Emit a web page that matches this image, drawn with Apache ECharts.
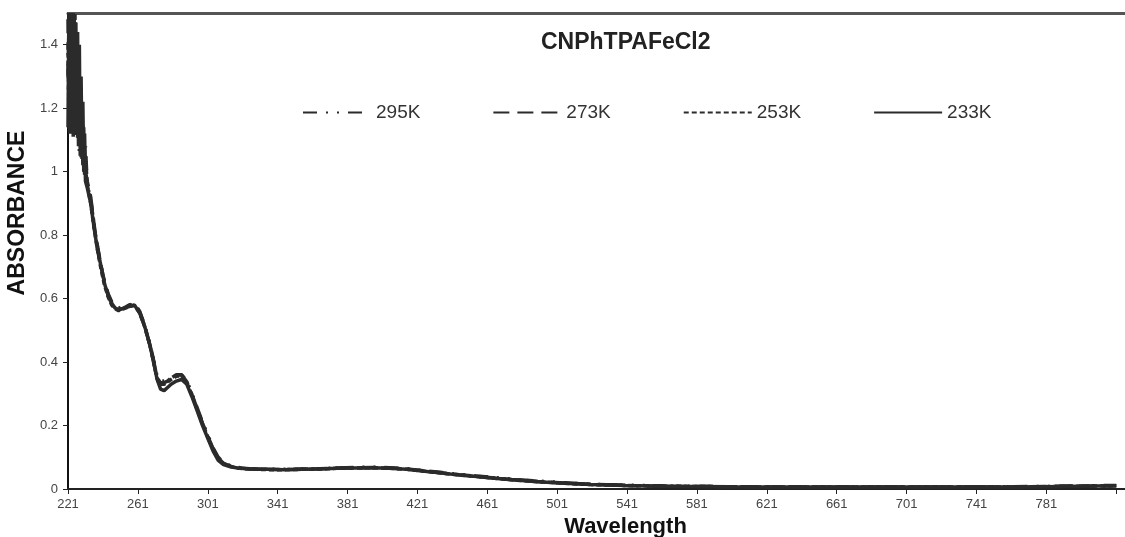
<!DOCTYPE html>
<html>
<head>
<meta charset="utf-8">
<script src="https://cdn.jsdelivr.net/npm/echarts@6/dist/echarts.min.js"></script>
<style>
  html, body { margin: 0; padding: 0; background: #fff; }
  #chart { width: 1125px; height: 537px; }
</style>
</head>
<body>
<div id="chart"></div>
<script>
// wavelength (nm) sample points
var wavelengths = [221, 221.5, 222, 222.5, 223, 223.5, 224, 224.5, 225, 225.5,
    226, 226.5, 227, 227.5, 228, 228.5, 229, 229.5, 230, 230.5, 231,
    232, 234, 236, 238, 240, 242, 244, 246, 248, 250,
    253, 256, 259, 262, 265, 268, 270, 272, 274, 276,
    278, 280, 283, 286, 289, 292, 295, 298, 301, 304,
    307, 310, 314, 318, 325, 335, 345, 355, 365, 375,
    385, 395, 405, 415, 425, 435, 445, 455, 465, 475,
    490, 505, 520, 540, 560, 580, 600, 630, 660, 690,
    720, 750, 780, 800, 821];

var abs295 = [1.48, 1.13, 1.50, 1.12, 1.47, 1.14, 1.50, 1.11, 1.46, 1.13,
    1.45, 1.10, 1.38, 1.06, 1.28, 1.04, 1.20, 1.02, 1.14, 0.99, 1.08,
    0.96, 0.91, 0.83, 0.76, 0.70, 0.65, 0.615, 0.59, 0.575, 0.57,
    0.575, 0.58, 0.585, 0.56, 0.515, 0.455, 0.405, 0.355, 0.34, 0.34,
    0.345, 0.35, 0.36, 0.36, 0.34, 0.30, 0.255, 0.21, 0.17, 0.13,
    0.10, 0.083, 0.073, 0.068, 0.064, 0.062, 0.062, 0.063, 0.064, 0.066,
    0.068, 0.069, 0.067, 0.064, 0.058, 0.052, 0.046, 0.041, 0.036, 0.031,
    0.025, 0.02, 0.015, 0.012, 0.01, 0.008, 0.007, 0.006, 0.006, 0.006,
    0.006, 0.007, 0.008, 0.010, 0.011];

var abs273 = [1.30, 1.45, 1.15, 1.50, 1.20, 1.38, 1.14, 1.50, 1.25, 1.40,
    1.15, 1.35, 1.12, 1.25, 1.08, 1.20, 1.06, 1.15, 1.03, 1.08, 1.00,
    0.97, 0.92, 0.83, 0.76, 0.70, 0.65, 0.61, 0.585, 0.57, 0.565,
    0.57, 0.58, 0.58, 0.558, 0.512, 0.452, 0.402, 0.35, 0.335, 0.335,
    0.34, 0.35, 0.358, 0.36, 0.338, 0.297, 0.252, 0.207, 0.167, 0.127,
    0.097, 0.081, 0.072, 0.067, 0.064, 0.062, 0.061, 0.062, 0.064, 0.066,
    0.067, 0.068, 0.066, 0.063, 0.057, 0.051, 0.045, 0.040, 0.035, 0.030,
    0.024, 0.019, 0.015, 0.011, 0.009, 0.008, 0.007, 0.006, 0.006, 0.006,
    0.006, 0.006, 0.008, 0.009, 0.010];

var abs253 = [1.40, 1.20, 1.50, 1.25, 1.35, 1.12, 1.45, 1.20, 1.50, 1.15,
    1.38, 1.15, 1.30, 1.10, 1.25, 1.07, 1.16, 1.03, 1.10, 1.00, 1.05,
    0.96, 0.90, 0.82, 0.75, 0.69, 0.64, 0.605, 0.58, 0.568, 0.562,
    0.568, 0.575, 0.578, 0.555, 0.51, 0.45, 0.40, 0.348, 0.33, 0.33,
    0.337, 0.345, 0.355, 0.357, 0.335, 0.295, 0.25, 0.205, 0.165, 0.125,
    0.095, 0.08, 0.071, 0.066, 0.063, 0.061, 0.061, 0.062, 0.063, 0.065,
    0.066, 0.067, 0.065, 0.062, 0.056, 0.050, 0.044, 0.039, 0.034, 0.029,
    0.023, 0.018, 0.014, 0.011, 0.009, 0.008, 0.007, 0.006, 0.006, 0.006,
    0.006, 0.006, 0.007, 0.009, 0.010];

var abs233 = [1.14, 1.50, 1.12, 1.49, 1.13, 1.50, 1.11, 1.48, 1.12, 1.47,
    1.12, 1.44, 1.08, 1.40, 1.05, 1.30, 1.04, 1.22, 1.00, 1.12, 0.97,
    0.95, 0.90, 0.82, 0.75, 0.70, 0.645, 0.61, 0.585, 0.57, 0.565,
    0.57, 0.575, 0.58, 0.555, 0.51, 0.45, 0.40, 0.345, 0.315, 0.31,
    0.32, 0.33, 0.34, 0.345, 0.33, 0.29, 0.245, 0.20, 0.16, 0.12,
    0.09, 0.077, 0.07, 0.066, 0.063, 0.062, 0.061, 0.062, 0.063, 0.065,
    0.066, 0.067, 0.065, 0.062, 0.056, 0.050, 0.044, 0.039, 0.034, 0.029,
    0.023, 0.018, 0.014, 0.011, 0.009, 0.008, 0.007, 0.006, 0.006, 0.006,
    0.006, 0.006, 0.007, 0.009, 0.010];

var xTicks = [221, 261, 301, 341, 381, 421, 461, 501, 541, 581, 621, 661, 701, 741, 781, 821];
var xLabels = [221, 261, 301, 341, 381, 421, 461, 501, 541, 581, 621, 661, 701, 741, 781];
var yTicks = [0, 0.2, 0.4, 0.6, 0.8, 1, 1.2, 1.4];

var seriesNames = ['295K', '273K', '253K', '233K'];
var seriesValues = [abs295, abs273, abs253, abs233];
var dashTypes = [[14, 9, 2, 9, 2, 9], [16, 8], [5, 3], 'solid'];

function pairs(vals) {
    return wavelengths.map(function (w, i) { return [w, vals[i]]; });
}

var chart = echarts.init(document.getElementById('chart'));
var font = '"Liberation Sans", Arial, sans-serif';

var option = {
    animation: false,
    title: {
        text: 'CNPhTPAFeCl2',
        left: 536,
        top: 26,
        textStyle: { fontFamily: font, fontSize: 23, fontWeight: 'bold', color: '#222' }
    },
    legend: {
        left: 297,
        top: 98,
        itemWidth: 68,
        itemHeight: 14,
        itemGap: 72,
        data: seriesNames,
        itemStyle: { color: 'transparent', borderColor: 'transparent', borderWidth: 0, opacity: 0 },
        textStyle: { fontFamily: font, fontSize: 19, color: '#333' }
    },
    grid: { left: 68, right: 0, top: 13, bottom: 48, containLabel: false, outerBoundsMode: 'none' },
    xAxis: [{
        type: 'value',
        min: 221,
        max: 826,
        name: 'Wavelength',
        nameLocation: 'middle',
        nameGap: 24,
        nameTextStyle: { fontFamily: font, fontSize: 22, fontWeight: 'bold', color: '#111', padding: [0, 0, 0, 58] },
        axisLine: { lineStyle: { color: '#222', width: 2 } },
        axisTick: { customValues: xTicks, length: 5, lineStyle: { color: '#222' } },
        axisLabel: { customValues: xLabels, margin: 9, fontFamily: font, fontSize: 13, color: '#444' },
        splitLine: { show: false }
    }, {
        type: 'value',
        position: 'top',
        axisLine: { show: true, lineStyle: { color: '#555', width: 3 } },
        axisTick: { show: false },
        axisLabel: { show: false },
        splitLine: { show: false }
    }],
    yAxis: {
        type: 'value',
        min: 0,
        max: 1.5,
        name: 'ABSORBANCE',
        nameLocation: 'middle',
        nameGap: 32,
        nameTextStyle: { fontFamily: font, fontSize: 23, fontWeight: 'bold', color: '#111', padding: [0, 0, 0, 76] },
        axisLine: { show: true, lineStyle: { color: '#111', width: 2 } },
        axisTick: { show: true, customValues: yTicks, length: 5, lineStyle: { color: '#222' } },
        axisLabel: { customValues: yTicks, margin: 10, fontFamily: font, fontSize: 13, color: '#444' },
        splitLine: { show: false }
    },
    series: seriesNames.map(function (name, i) {
        return {
            name: name,
            type: 'line',
            symbol: 'none',
            data: pairs(seriesValues[i]),
            lineStyle: { color: '#2b2b2b', width: 3.5, type: dashTypes[i] },
            itemStyle: { color: '#2b2b2b' }
        };
    })
};
chart.setOption(option);
</script>
</body>
</html>
